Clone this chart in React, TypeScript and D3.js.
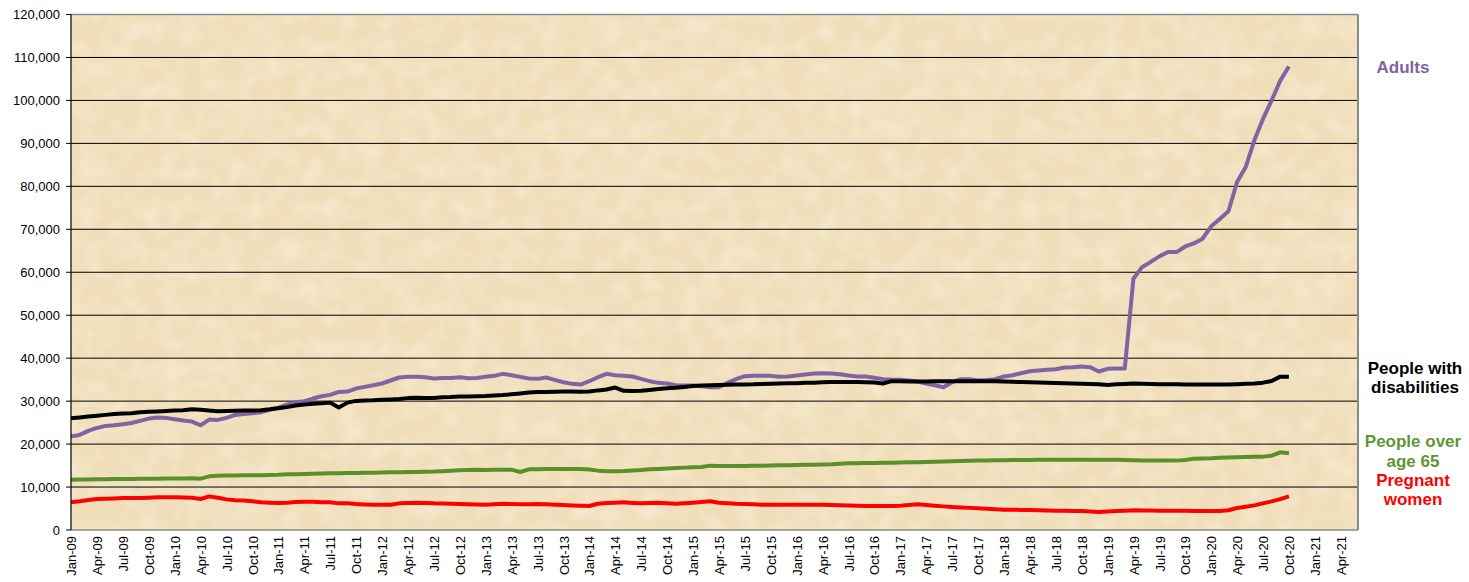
import React from "react";
import * as d3 from "d3";

const MONTHS = ["Jan", "Feb", "Mar", "Apr", "May", "Jun", "Jul", "Aug", "Sep", "Oct", "Nov", "Dec"];
const START_YEAR = 2009;
const CATEGORY_COUNT = 150; // Jan-09 .. Jun-21
const categories: string[] = Array.from({ length: CATEGORY_COUNT }, (_, i) => {
  const y = START_YEAR + Math.floor(i / 12);
  return `${MONTHS[i % 12]}-${String(y % 100).padStart(2, "0")}`;
});
const xTickLabels = categories.filter((_, i) => i % 3 === 0);
const yTicks = [0, 10000, 20000, 30000, 40000, 50000, 60000, 70000, 80000, 90000, 100000, 110000, 120000];

const adults = [
  21800, 22130, 23060, 23760, 24230, 24380, 24600, 24900, 25400, 25940, 26170, 26100,
  25800, 25470, 25240, 24380, 25700, 25630, 26100, 26790, 27020, 27180, 27410, 27960,
  28500, 29200, 29740, 29980, 30600, 31140, 31450, 32150, 32230, 32930, 33320, 33700,
  34100, 34800, 35500, 35650, 35650, 35570, 35260, 35400, 35400, 35570, 35340, 35400,
  35700, 35880, 36350, 36040, 35650, 35260, 35180, 35500, 34950, 34400, 34020, 33860,
  34640, 35570, 36350, 36040, 35880, 35730, 35180, 34640, 34250, 34100, 33700, 33630,
  33630, 33470, 33240, 33240, 34250, 35100, 35800, 35880, 35880, 35880, 35650, 35730,
  35960, 36190, 36430, 36500, 36430, 36270, 35960, 35730, 35730, 35420, 35100, 34950,
  34950, 34800, 34560, 34100, 33700, 33240, 34400, 35100, 35100, 34800, 34900, 35100,
  35730, 36040, 36500, 36970, 37120, 37280, 37440, 37820, 37900, 38060, 37900, 36900,
  37520, 37600, 37600, 58500, 61200, 62400, 63700, 64700, 64700, 66000, 66700, 67800,
  70700, 72400, 74200, 81000, 84500, 90700, 95700, 100000, 104600, 107900,
];

const disabilities = [
  26000, 26200, 26400, 26600, 26800, 27000, 27100, 27200, 27400, 27500, 27600, 27700,
  27800, 27900, 28100, 28000, 27800, 27650, 27700, 27750, 27800, 27800, 27900, 28100,
  28350, 28600, 29000, 29200, 29400, 29500, 29650, 28500, 29650, 30050, 30150, 30200,
  30300, 30400, 30500, 30700, 30800, 30700, 30750, 30900, 30950, 31070, 31100, 31150,
  31200, 31300, 31400, 31600, 31800, 32000, 32100, 32150, 32200, 32230, 32250, 32200,
  32230, 32500, 32700, 33160, 32400, 32350, 32400, 32600, 32800, 33000, 33100, 33300,
  33500, 33630, 33700, 33750, 33800, 33850, 33860, 33900, 34000, 34050, 34100, 34150,
  34170, 34250, 34300, 34400, 34450, 34480, 34480, 34450, 34400, 34330, 34100, 34640,
  34600, 34560, 34560, 34560, 34600, 34600, 34620, 34640, 34640, 34640, 34640, 34600,
  34550, 34500, 34450, 34400, 34330, 34250, 34200, 34150, 34100, 34050, 34000, 33900,
  33780, 33900, 34000, 34100, 34050, 34000, 33940, 33900, 33900, 33880, 33860, 33860,
  33860, 33860, 33860, 33950, 34050, 34100, 34300, 34700, 35700, 35650,
];

const over65 = [
  11720, 11750, 11780, 11800, 11830, 11870, 11880, 11900, 11920, 11950, 11950, 11970,
  12000, 12010, 12030, 11950, 12490, 12650, 12680, 12700, 12720, 12730, 12760, 12800,
  12850, 12960, 13000, 13050, 13100, 13150, 13190, 13220, 13250, 13290, 13320, 13350,
  13380, 13420, 13450, 13480, 13500, 13550, 13600, 13700, 13800, 13890, 13950, 14000,
  13970, 14000, 14050, 14050, 13500, 14120, 14150, 14200, 14200, 14200, 14200, 14200,
  14100, 13820, 13660, 13700, 13750, 13850, 13950, 14120, 14220, 14320, 14430, 14520,
  14600, 14670, 14980, 14900, 14880, 14890, 14900, 14940, 14980, 15020, 15060, 15100,
  15130, 15170, 15210, 15250, 15290, 15400, 15520, 15550, 15580, 15600, 15640, 15680,
  15700, 15750, 15800, 15850, 15910, 15950, 16000, 16050, 16100, 16150, 16180, 16220,
  16250, 16280, 16300, 16320, 16340, 16360, 16380, 16380, 16380, 16380, 16380, 16380,
  16380, 16350, 16300, 16250, 16200, 16150, 16150, 16150, 16150, 16300, 16610, 16650,
  16700, 16800, 16850, 16920, 16980, 17030, 17080, 17300, 18090, 17850,
];

const pregnant = [
  6440, 6670, 6980, 7210, 7280, 7350, 7440, 7440, 7440, 7500, 7600, 7600,
  7600, 7560, 7520, 7210, 7830, 7520, 7130, 6900, 6850, 6700, 6440, 6350,
  6280, 6350, 6520, 6600, 6550, 6450, 6440, 6200, 6200, 6050, 5950, 5890,
  5890, 5890, 6200, 6280, 6360, 6300, 6200, 6150, 6100, 6050, 5970, 5920,
  5890, 6000, 6120, 6050, 5970, 6000, 6050, 6000, 5890, 5800, 5730, 5650,
  5580, 6120, 6280, 6350, 6440, 6300, 6200, 6300, 6360, 6250, 6120, 6250,
  6360, 6500, 6670, 6360, 6250, 6120, 6050, 6000, 5890, 5890, 5890, 5890,
  5890, 5870, 5850, 5850, 5820, 5750, 5700, 5650, 5580, 5580, 5580, 5600,
  5650, 5800, 5970, 5800, 5650, 5500, 5350, 5250, 5150, 5040, 4950, 4850,
  4720, 4700, 4680, 4650, 4600, 4550, 4490, 4460, 4450, 4430, 4300, 4180,
  4300, 4400, 4500, 4570, 4550, 4520, 4500, 4480, 4470, 4460, 4450, 4440,
  4420, 4450, 4600, 5110, 5400, 5730, 6200, 6670, 7200, 7830,
];

const seriesNames = ["Adults", "People with disabilities", "People over age 65", "Pregnant women"];
const seriesColors = ["#8064A2", "#000000", "#5A8F29", "#FF0000"];
const labelColors = ["#8064A2", "#000000", "#5E9732", "#FF0000"];

const W = 1469;
const H = 582;
const M = { left: 71, right: 1358, top: 14.5, bottom: 530 };
const FONT = "'Liberation Sans', Arial, Helvetica, sans-serif";

export default function App() {
  const x = d3.scalePoint<string>().domain(categories).range([M.left, M.right]).padding(0);
  const y = d3.scaleLinear().domain([0, 120000]).range([M.bottom, M.top]);
  const fmt = d3.format(",");
  const allSeries = [adults, disabilities, over65, pregnant];
  const line = d3
    .line<number>()
    .x((_, i) => x(categories[i]) as number)
    .y((d) => y(d));

  const labelLines: { lines: string[]; ys: number[]; cx: number }[] = [
    { lines: ["Adults"], ys: [72.5], cx: 1403 },
    { lines: ["People with", "disabilities"], ys: [374, 393], cx: 1415 },
    { lines: ["People over", "age 65"], ys: [447, 466.5], cx: 1413 },
    { lines: ["Pregnant", "women"], ys: [485.5, 505], cx: 1413 },
  ];

  return (
    <svg
      width={W}
      height={H}
      style={{ position: "absolute", left: 0, top: 0, display: "block", background: "#fff" }}
      fontFamily={FONT}
    >
      <defs>
        <filter id="parch" x="0" y="0" width="100%" height="100%">
          <feTurbulence type="fractalNoise" baseFrequency="0.012 0.02" numOctaves="4" seed="7" result="n" />
          <feColorMatrix
            in="n"
            type="matrix"
            values="0 0 0 0 0.89  0 0 0 0 0.8  0 0 0 0 0.6  1.6 0 0 0 -0.6"
          />
        </filter>
        <filter id="parch2" x="0" y="0" width="100%" height="100%">
          <feTurbulence type="fractalNoise" baseFrequency="0.05" numOctaves="2" seed="3" result="n2" />
          <feColorMatrix
            in="n2"
            type="matrix"
            values="0 0 0 0 1  0 0 0 0 0.97  0 0 0 0 0.9  0 1.4 0 0 -0.55"
          />
        </filter>
      </defs>

      {/* plot background */}
      <rect x={M.left} y={M.top} width={M.right - M.left} height={M.bottom - M.top} fill="#F0DEB9" />
      <rect x={M.left} y={M.top} width={M.right - M.left} height={M.bottom - M.top} filter="url(#parch)" opacity={0.35} />
      <rect x={M.left} y={M.top} width={M.right - M.left} height={M.bottom - M.top} filter="url(#parch2)" opacity={0.45} />

      {/* gridlines */}
      {yTicks
        .filter((t) => t > 0 && t < 120000)
        .map((t) => (
          <line key={t} x1={M.left} x2={M.right} y1={y(t)} y2={y(t)} stroke="#000" strokeWidth={1} />
        ))}

      {/* plot border (top/right/bottom) */}
      <line x1={M.left} x2={M.right} y1={M.top} y2={M.top} stroke="#8a8a8a" strokeWidth={1.5} />
      <line x1={M.right} x2={M.right} y1={M.top} y2={M.bottom} stroke="#8a8a8a" strokeWidth={2} />
      <line x1={M.left} x2={M.right} y1={M.bottom} y2={M.bottom} stroke="#8a8a8a" strokeWidth={1.5} />

      {/* series */}
      {allSeries.map((s, k) => (
        <path
          key={seriesNames[k]}
          d={line(s) || ""}
          fill="none"
          stroke={seriesColors[k]}
          strokeWidth={4}
          strokeLinejoin="round"
          strokeLinecap="butt"
        />
      ))}

      {/* y axis */}
      <line x1={M.left} x2={M.left} y1={M.top} y2={M.bottom} stroke="#000" strokeWidth={1.2} />
      {yTicks.map((t) => (
        <g key={t}>
          <line x1={M.left - 5} x2={M.left} y1={y(t)} y2={y(t)} stroke="#000" strokeWidth={1} />
          <text x={60} y={y(t)} dy="0.36em" textAnchor="end" fontSize={13} fill="#000">
            {fmt(t)}
          </text>
        </g>
      ))}

      {/* x labels */}
      {xTickLabels.map((c) => (
        <text
          key={c}
          transform={`translate(${(x(c) as number) + 0.5},536) rotate(-90)`}
          textAnchor="end"
          dy="0.36em"
          fontSize={13}
          fill="#000"
        >
          {c}
        </text>
      ))}

      {/* series labels */}
      {labelLines.map((l, k) =>
        l.lines.map((txt, j) => (
          <text
            key={`${k}-${j}`}
            x={l.cx}
            y={l.ys[j]}
            textAnchor="middle"
            fontSize={17}
            fontWeight="bold"
            fill={labelColors[k]}
          >
            {txt}
          </text>
        ))
      )}
    </svg>
  );
}
